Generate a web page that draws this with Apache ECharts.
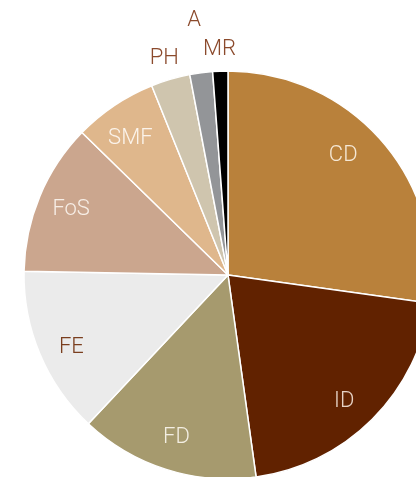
<!DOCTYPE html>
<html>
<head>
<meta charset="utf-8">
<script src="https://cdn.jsdelivr.net/npm/echarts@6/dist/echarts.min.js"></script>
<style>html,body{margin:0;padding:0;background:#fff}#c{width:416px;height:477px}</style>
</head>
<body>
<div id="c"></div>
<script>
const categories = ['CD', 'ID', 'FD', 'FE', 'FoS', 'SMF', 'PH', 'A', 'MR'];
const values = [27.2, 20.6, 14.2, 13.3, 12.0, 6.6, 3.1, 1.8, 1.2];
const colors = ['#B9813B', '#612200', '#A69A6E', '#EBEBEB', '#CBA68E', '#DFB78C', '#CFC5AE', '#939598', '#000000'];
const labelColors = ['#F5E8D6', '#E6D2C4', '#F3EEE2', '#7A3E1E', '#F7EEE6', '#FBF3EA', '#8B4A2C', '#8B4A2C', '#8B4A2C'];
const outsideLabels = ['PH', 'MR'];
const farLabels = ['A'];

const cx = 228, cy = 275, R = 204;
const font = { fontFamily: 'Roboto', fontWeight: 300, fontSize: 22 };

const mainData = categories.map((c, i) => ({ name: c, value: values[i], itemStyle: { color: colors[i] } }));
function labelData(list) {
  return categories.map((c, i) => ({
    name: c, value: values[i],
    label: { show: list.indexOf(c) >= 0, color: labelColors[i] }
  }));
}
const innerList = categories.filter(c => outsideLabels.indexOf(c) < 0 && farLabels.indexOf(c) < 0);
const innerLabelData = labelData(innerList);
// small nudges of label placement (blank line shifts text up/down by half a line)
Object.assign(innerLabelData[0].label, { padding: [0, 26, 0, 0], formatter: '{b}\n', lineHeight: 16 });
Object.assign(innerLabelData[1].label, { padding: [0, 8, 0, 0], formatter: '\n{b}', lineHeight: 12 });
Object.assign(innerLabelData[3].label, { formatter: '\n{b}', lineHeight: 12 });
Object.assign(innerLabelData[5].label, { padding: [0, 6, 0, 0], formatter: '\n{b}', lineHeight: 10 });

const chart = echarts.init(document.getElementById('c'), null, { renderer: 'canvas' });
function ring(r0, r1, data) {
  return {
    type: 'pie', center: [cx, cy], radius: [r0, r1], startAngle: 90, clockwise: true,
    avoidLabelOverlap: false, silent: true,
    itemStyle: { color: 'rgba(0,0,0,0)', borderWidth: 0 },
    label: Object.assign({ position: 'inside' }, font), labelLine: { show: false },
    data: data
  };
}
chart.setOption({
  animation: false,
  series: [
    {
      type: 'pie', center: [cx, cy], radius: [0, R], startAngle: 90, clockwise: true,
      avoidLabelOverlap: false, silent: true,
      itemStyle: { borderColor: '#fff', borderWidth: 1.5 },
      label: { show: false }, labelLine: { show: false },
      data: mainData
    },
    ring(130, 204, innerLabelData),
    ring(R, R + 38, labelData(outsideLabels)),
    ring(R + 30, R + 70, labelData(farLabels))
  ]
});
</script>
</body>
</html>
